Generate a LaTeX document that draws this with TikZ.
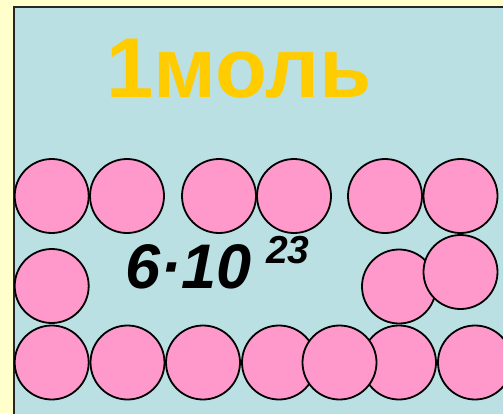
\documentclass[tikz,border=0pt]{standalone}
\usepackage{fontspec}
\setmainfont{Liberation Sans}
\usepackage{xcolor}
\usetikzlibrary{positioning}
\definecolor{bgyellow}{HTML}{FFFFCC}
\definecolor{boxblue}{HTML}{BBE0E3}
\definecolor{atompink}{HTML}{FF99CC}
\definecolor{molgold}{HTML}{FFCC00}

\begin{document}
\begin{tikzpicture}[x=1pt, y=-1pt,
  atom/.style={circle, draw=black, line width=1.8pt, fill=atompink,
    minimum size=74pt, inner sep=0pt},
  molname/.style={inner sep=0pt, anchor=base west, text=molgold,
    font=\fontsize{85}{85}\selectfont\bfseries},
  avog/.style={inner sep=0pt, anchor=base west, text=black,
    font=\fontsize{63}{63}\selectfont\bfseries\itshape},
  avogexp/.style={inner sep=0pt, anchor=base west, text=black,
    font=\fontsize{39}{39}\selectfont\bfseries\itshape}
]
  \fill[bgyellow] (0,0) rectangle (503,413);
  \useasboundingbox (0,0) rectangle (503,413);
  \draw[fill=boxblue, draw=black!85, line width=2pt] (14,7) rectangle (530,440);

  \node[molname] (title) at (106,97) {1моль};

  % top row
  \foreach \x [count=\i] in {51.7,127,219,294,385,460.5}
    \node[atom] (top\i) at (\x,196) {};

  % middle row
  \node[atom] (mid1) at (51.7,286) {};
  \node[atom] (mid2) at (399,286.5) {};
  \node[atom] (mid3) at (460.5,272) {};

  % bottom row, the fifth one lies on top
  \foreach \x/\n in {51.7/1,127.5/2,203/3,279/4,399/6,475/7}
    \node[atom] (bot\n) at (\x,362.5) {};
  \node[atom] (bot5) at (339.5,362.5) {};

  \node[avog] (num) at (125,288) {6·10};
  \node[avogexp] (pow) at (266,263.3) {23};
\end{tikzpicture}
\end{document}
